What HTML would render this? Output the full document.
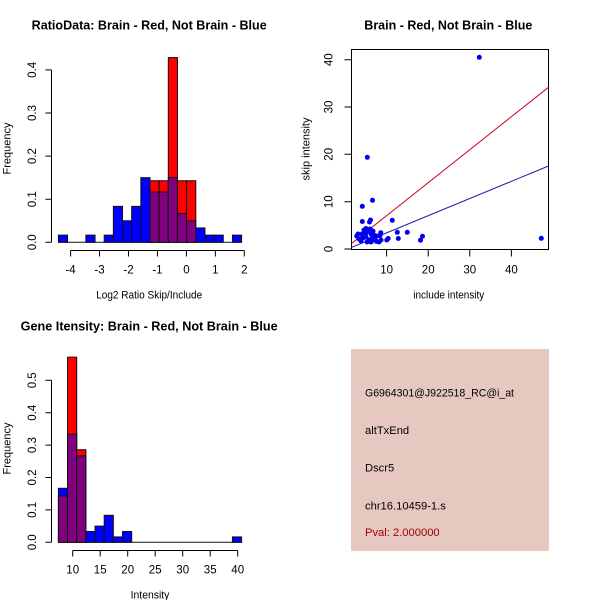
<!DOCTYPE html>
<html><head><meta charset="utf-8"><style>
html,body{margin:0;padding:0;background:#fff;}
svg{display:block;}
text{font-family:"Liberation Sans",Arial,sans-serif;fill:#000;}
.t{font-weight:bold;font-size:12.5px;}
.tk{font-size:11.5px;}
.lb{font-size:11px;}
.bb{fill:#0000FF;stroke:#111;stroke-width:1;}
.br{fill:#FF0000;stroke:#111;stroke-width:1;}
.bp{fill:#800080;stroke:#111;stroke-width:1;}
.ax{stroke:#000;stroke-width:1;fill:none;}
</style></head><body>
<svg width="600" height="600" viewBox="0 0 600 600" xmlns="http://www.w3.org/2000/svg">
<rect width="600" height="600" fill="#fff"/>

<!-- ===== Plot 1 ===== -->
<text class="t" x="31.7" y="29.3" textLength="235" lengthAdjust="spacingAndGlyphs">RatioData: Brain - Red, Not Brain - Blue</text>
<line x1="58.4" y1="242.3" x2="241.6" y2="242.3" stroke="#111" stroke-width="1"/>
<!-- blue-only bins -->
<rect class="bb" x="58.4" y="235.12" width="9.16" height="7.18"/>
<rect class="bb" x="85.88" y="235.12" width="9.16" height="7.18"/>
<rect class="bb" x="104.2" y="235.12" width="9.16" height="7.18"/>
<rect class="bb" x="113.36" y="206.38" width="9.16" height="35.92"/>
<rect class="bb" x="122.52" y="220.75" width="9.16" height="21.55"/>
<rect class="bb" x="131.68" y="206.38" width="9.16" height="35.92"/>
<rect class="bb" x="140.84" y="177.65" width="9.16" height="64.65"/>
<rect class="bb" x="195.8" y="227.93" width="9.16" height="14.37"/>
<rect class="bb" x="204.96" y="235.12" width="9.16" height="7.18"/>
<rect class="bb" x="214.12" y="235.12" width="9.16" height="7.18"/>
<rect class="bb" x="232.44" y="235.12" width="9.16" height="7.18"/>
<!-- red + purple bins -->
<rect class="br" x="150" y="180.73" width="9.16" height="61.57"/>
<rect class="bp" x="150" y="192.02" width="9.16" height="50.28"/>
<rect class="br" x="159.16" y="180.73" width="9.16" height="61.57"/>
<rect class="bp" x="159.16" y="192.02" width="9.16" height="50.28"/>
<rect class="br" x="168.32" y="57.59" width="9.16" height="184.71"/>
<rect class="bp" x="168.32" y="177.65" width="9.16" height="64.65"/>
<rect class="br" x="177.48" y="180.73" width="9.16" height="61.57"/>
<rect class="bp" x="177.48" y="213.57" width="9.16" height="28.73"/>
<rect class="br" x="186.64" y="180.73" width="9.16" height="61.57"/>
<rect class="bp" x="186.64" y="220.75" width="9.16" height="21.55"/>
<!-- axes -->
<path class="ax" d="M70.6 250.5H244.3 M70.6 250.5v6 M99.55 250.5v6 M128.5 250.5v6 M157.45 250.5v6 M186.4 250.5v6 M215.35 250.5v6 M244.3 250.5v6"/>
<path class="ax" d="M51.5 242.3V69.9 M51.5 242.3h-6 M51.5 199.2h-6 M51.5 156.1h-6 M51.5 113h-6 M51.5 69.9h-6"/>
<g class="tk" text-anchor="middle">
<text x="70.6" y="273.3">-4</text><text x="99.55" y="273.3">-3</text><text x="128.5" y="273.3">-2</text><text x="157.45" y="273.3">-1</text><text x="186.4" y="273.3">0</text><text x="215.35" y="273.3">1</text><text x="244.3" y="273.3">2</text>
<text transform="translate(36,242.3) rotate(-90)">0.0</text>
<text transform="translate(36,199.2) rotate(-90)">0.1</text>
<text transform="translate(36,156.1) rotate(-90)">0.2</text>
<text transform="translate(36,113) rotate(-90)">0.3</text>
<text transform="translate(36,69.9) rotate(-90)">0.4</text>
</g>
<text class="lb" x="149.2" y="298.3" text-anchor="middle" textLength="106" lengthAdjust="spacingAndGlyphs">Log2 Ratio Skip/Include</text>
<text class="lb" transform="translate(10.5,148.5) rotate(-90)" text-anchor="middle">Frequency</text>

<!-- ===== Plot 2 (scatter) ===== -->
<text class="t" x="364.3" y="29.3" textLength="168" lengthAdjust="spacingAndGlyphs">Brain - Red, Not Brain - Blue</text>
<rect x="351.5" y="49.5" width="197" height="200" fill="none" stroke="#000" stroke-width="1"/>
<path class="ax" d="M386.6 249.5v7 M428.2 249.5v7 M469.8 249.5v7 M511.4 249.5v7"/>
<path class="ax" d="M351.5 249h-7 M351.5 201.7h-7 M351.5 154.3h-7 M351.5 107h-7 M351.5 59.7h-7"/>
<g class="tk" text-anchor="middle">
<text x="386.6" y="273.3">10</text><text x="428.2" y="273.3">20</text><text x="469.8" y="273.3">30</text><text x="511.4" y="273.3">40</text>
<text transform="translate(332.7,249) rotate(-90)">0</text>
<text transform="translate(332.7,201.7) rotate(-90)">10</text>
<text transform="translate(332.7,154.3) rotate(-90)">20</text>
<text transform="translate(332.7,107) rotate(-90)">30</text>
<text transform="translate(332.7,59.7) rotate(-90)">40</text>
</g>
<text class="lb" x="448.8" y="298.3" text-anchor="middle" textLength="71" lengthAdjust="spacingAndGlyphs">include intensity</text>
<text class="lb" transform="translate(309.5,149) rotate(-90)" text-anchor="middle">skip intensity</text>
<line x1="351.5" y1="243.5" x2="548.5" y2="87.3" stroke="#CC0022" stroke-width="1"/>
<line x1="351.5" y1="247.4" x2="548.5" y2="166" stroke="#1A1AAA" stroke-width="1"/>
<g fill="#0000EE">
<circle cx="479.3" cy="57.3" r="2.5"/>
<circle cx="541.3" cy="238.3" r="2.5"/>
<circle cx="367.3" cy="157.3" r="2.5"/>
<circle cx="372.5" cy="200.3" r="2.5"/>
<circle cx="362.3" cy="206.3" r="2.5"/>
<circle cx="362.3" cy="221.5" r="2.5"/>
<circle cx="369.5" cy="222" r="2.5"/>
<circle cx="370.5" cy="220" r="2.5"/>
<circle cx="392.3" cy="220.3" r="2.5"/>
<circle cx="397.3" cy="232.3" r="2.5"/>
<circle cx="407.3" cy="232.3" r="2.5"/>
<circle cx="398.3" cy="238.5" r="2.5"/>
<circle cx="420.5" cy="240.2" r="2.5"/>
<circle cx="422.5" cy="236.3" r="2.5"/>
<circle cx="386.8" cy="240" r="2.5"/>
<circle cx="388.2" cy="238.5" r="2.5"/>
<circle cx="380.8" cy="232.7" r="2.5"/>
<circle cx="380" cy="235.5" r="2.5"/>
<circle cx="376.3" cy="241.3" r="2.5"/>
<circle cx="381" cy="240" r="2.5"/>
<circle cx="358" cy="234" r="2.5"/>
<circle cx="361" cy="241" r="2.5"/>
<circle cx="364" cy="230" r="2.5"/>
<circle cx="366" cy="228.5" r="2.5"/>
<circle cx="368" cy="231" r="2.5"/>
<circle cx="370" cy="229" r="2.5"/>
<circle cx="366" cy="237" r="2.5"/>
<circle cx="369" cy="240" r="2.5"/>
<circle cx="372" cy="238" r="2.5"/>
<circle cx="374" cy="235" r="2.5"/>
<circle cx="363" cy="238" r="2.5"/>
<circle cx="359" cy="239" r="2.5"/>
<circle cx="367" cy="242" r="2.5"/>
<circle cx="371" cy="242" r="2.5"/>
<circle cx="375" cy="240" r="2.5"/>
<circle cx="373" cy="231" r="2.5"/>
<circle cx="377" cy="236" r="2.5"/>
<circle cx="379" cy="242" r="2.5"/>
<circle cx="356.7" cy="236" r="2.5"/>
<circle cx="362" cy="234" r="2.5"/>
<circle cx="366" cy="233" r="2.5"/>
<circle cx="371" cy="234" r="2.5"/>
</g>

<!-- ===== Plot 3 ===== -->
<text class="t" x="20.7" y="330.3" textLength="257" lengthAdjust="spacingAndGlyphs">Gene Itensity: Brain - Red, Not Brain - Blue</text>
<line x1="58.4" y1="542.3" x2="241.6" y2="542.3" stroke="#111" stroke-width="1"/>
<rect class="bb" x="58.4" y="488.3" width="9.16" height="54"/>
<rect class="bp" x="58.4" y="496.01" width="9.16" height="46.29"/>
<rect class="br" x="67.56" y="357.16" width="9.16" height="185.14"/>
<rect class="bp" x="67.56" y="434.3" width="9.16" height="108"/>
<rect class="br" x="76.72" y="449.73" width="9.16" height="92.57"/>
<rect class="bp" x="76.72" y="455.9" width="9.16" height="86.4"/>
<rect class="bb" x="85.88" y="531.5" width="9.16" height="10.8"/>
<rect class="bb" x="95.04" y="526.1" width="9.16" height="16.2"/>
<rect class="bb" x="104.2" y="515.3" width="9.16" height="27"/>
<rect class="bb" x="113.36" y="536.9" width="9.16" height="5.4"/>
<rect class="bb" x="122.52" y="531.5" width="9.16" height="10.8"/>
<rect class="bb" x="232.44" y="536.9" width="9.16" height="5.4"/>
<path class="ax" d="M72.7 550.5H237.7 M72.7 550.5v6 M100.2 550.5v6 M127.7 550.5v6 M155.2 550.5v6 M182.7 550.5v6 M210.2 550.5v6 M237.7 550.5v6"/>
<path class="ax" d="M51.5 542.3V380.3 M51.5 542.3h-6 M51.5 509.9h-6 M51.5 477.5h-6 M51.5 445.1h-6 M51.5 412.7h-6 M51.5 380.3h-6"/>
<g class="tk" text-anchor="middle">
<text x="72.7" y="573.3">10</text><text x="100.2" y="573.3">15</text><text x="127.7" y="573.3">20</text><text x="155.2" y="573.3">25</text><text x="182.7" y="573.3">30</text><text x="210.2" y="573.3">35</text><text x="237.7" y="573.3">40</text>
<text transform="translate(36,542.3) rotate(-90)">0.0</text>
<text transform="translate(36,509.9) rotate(-90)">0.1</text>
<text transform="translate(36,477.5) rotate(-90)">0.2</text>
<text transform="translate(36,445.1) rotate(-90)">0.3</text>
<text transform="translate(36,412.7) rotate(-90)">0.4</text>
<text transform="translate(36,380.3) rotate(-90)">0.5</text>
</g>
<text class="lb" x="150" y="598.3" text-anchor="middle" textLength="38.7" lengthAdjust="spacingAndGlyphs">Intensity</text>
<text class="lb" transform="translate(10.5,448.5) rotate(-90)" text-anchor="middle">Frequency</text>

<!-- ===== Info box ===== -->
<rect x="351" y="349" width="198" height="202" fill="#E6C8C1"/>
<g font-size="11.2px">
<text x="365" y="396.5" textLength="149" lengthAdjust="spacingAndGlyphs">G6964301@J922518_RC@i_at</text>
<text x="365" y="434">altTxEnd</text>
<text x="365" y="471.5">Dscr5</text>
<text x="365" y="509.5">chr16.10459-1.s</text>
<text x="365" y="536" style="fill:#990000">Pval: 2.000000</text>
</g>
</svg>
</body></html>
